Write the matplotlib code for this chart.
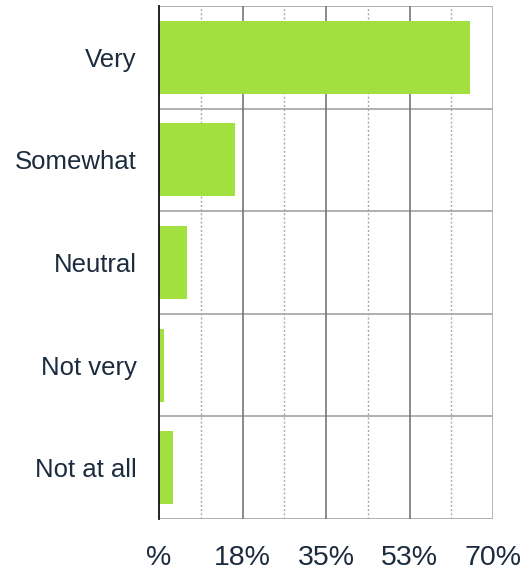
import matplotlib
matplotlib.use('Agg')
import matplotlib.pyplot as plt

categories = ['Very', 'Somewhat', 'Neutral', 'Not very', 'Not at all']
values = [65.2, 15.9, 5.9, 1.0, 2.9]
tick_values = [0, 17.5, 35, 52.5, 70]
tick_labels = ['%', '18%', '35%', '53%', '70%']
minor_values = [8.75, 26.25, 43.75, 61.25]

plt.rcParams['font.family'] = ['Liberation Sans', 'DejaVu Sans']

fig = plt.figure(figsize=(5.29, 5.71), dpi=100)
ax = fig.add_axes([159 / 529, 52 / 571, 334 / 529, 513 / 571])

ypos = list(range(len(categories)))
ax.barh(ypos, values, height=0.71, color='#a2e03f', zorder=3)

ax.set_xlim(0, 70)
ax.set_ylim(len(categories) - 0.5, -0.5)

# horizontal separators between categories
for i in range(len(categories) + 1):
    ax.axhline(i - 0.5, color='#aaaaaa', lw=1.3, zorder=1)

# vertical grid (last one is the light right border)
for v in tick_values[1:-1]:
    ax.axvline(v, color='#777777', lw=1.2, zorder=1)
ax.axvline(tick_values[-1], color='#aaaaaa', lw=1.2, zorder=1)
for v in minor_values:
    ax.axvline(v, color='#aaaaaa', lw=1, ls=(0, (1.5, 1.5)), zorder=1)

ax.set_xticks(tick_values)
ax.set_xticklabels(tick_labels, fontsize=20.5, color='#1c2b3e')
ax.set_yticks(ypos)
ax.set_yticklabels(categories, fontsize=18.5, color='#1c2b3e')
ax.tick_params(axis='both', length=0)
ax.tick_params(axis='x', pad=18.5)
ax.tick_params(axis='y', pad=16)

for side in ['top', 'right', 'bottom']:
    ax.spines[side].set_visible(False)
ax.spines['left'].set_color('#111111')
ax.spines['left'].set_linewidth(1.3)
ax.spines['left'].set_zorder(4)

fig.savefig('out.png', dpi=100)
